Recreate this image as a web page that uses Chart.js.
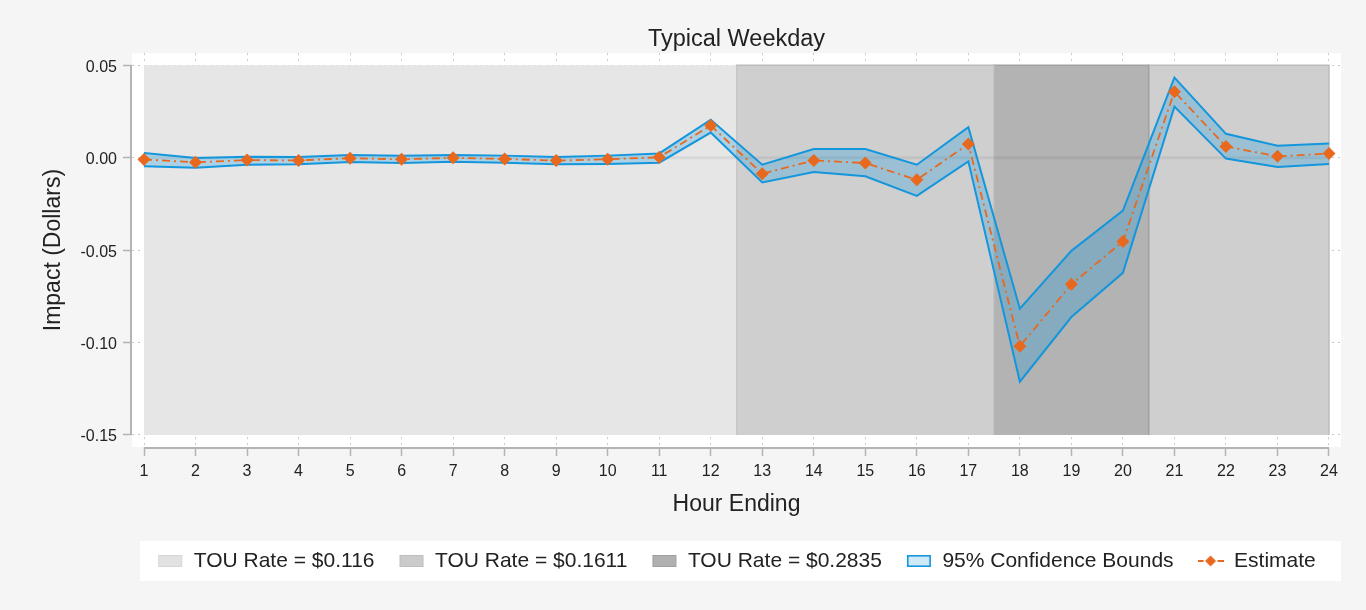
<!DOCTYPE html>
<html>
<head>
<meta charset="utf-8">
<script src="https://cdn.jsdelivr.net/npm/chart.js@4.4.1/dist/chart.umd.min.js"></script>
<style>
  html, body { margin: 0; padding: 0; background: #f5f5f5; }
  #wrap { width: 1366px; height: 610px; position: relative; }
</style>
</head>
<body>
<div id="wrap"><canvas id="chart"></canvas></div>
<script>
const hours = [1, 2, 3, 4, 5, 6, 7, 8, 9, 10, 11, 12, 13, 14, 15, 16, 17, 18, 19, 20, 21, 22, 23, 24];
const estimate = [-0.0010, -0.0025, -0.0013, -0.0015, -0.0003, -0.0009, -0.0001, -0.0007, -0.0016, -0.0009, 0.0002, 0.0174,
                  -0.0087, -0.0015, -0.0029, -0.0120, 0.0074, -0.1020, -0.0685, -0.0453, 0.0357, 0.0060, 0.0007, 0.0022];
const upperBound = [0.0025, -0.0002, 0.0005, 0.0004, 0.0015, 0.0011, 0.0015, 0.0011, 0.0004, 0.0011, 0.0023, 0.0205,
                    -0.0038, 0.0047, 0.0047, -0.0038, 0.0165, -0.0817, -0.0504, -0.0286, 0.0433, 0.0129, 0.0065, 0.0076];
const lowerBound = [-0.0047, -0.0054, -0.0038, -0.0036, -0.0023, -0.0029, -0.0022, -0.0027, -0.0036, -0.0034, -0.0027, 0.0136,
                    -0.0134, -0.0078, -0.0101, -0.0207, -0.0020, -0.1212, -0.0862, -0.0623, 0.0276, -0.0005, -0.0051, -0.0034];

const yTicks = [-0.15, -0.10, -0.05, 0.00, 0.05];
const yTickLabels = ['-0.15', '-0.10', '-0.05', '0.00', '0.05'];

// rate periods (hour ending), rate index into rateLabels
const periodStart = [1, 12.5, 17.5, 20.5];
const periodEnd = [12.5, 17.5, 20.5, 24];
const periodRate = [0, 1, 2, 1];
const rateLabels = ['TOU Rate = $0.116', 'TOU Rate = $0.1611', 'TOU Rate = $0.2835'];
const shadeTop = 0.05;
const shadeBottom = -0.15;

const rateFill = ['#e6e6e6', '#cfcfcf', '#b3b3b3'];
const rateBorder = ['#e0e0e0', '#bcbcbc', '#a2a2a2'];
const swatchFill = ['#e2e2e2', '#cbcbcb', '#b0b0b0'];
const swatchBorder = ['#d6d6d6', '#bebebe', '#a0a0a0'];
const blue = '#1496dc';
const orange = '#e8681e';
const fontFamily = '"Liberation Sans", Arial, sans-serif';
const legendFont = 21;
const legendPad = 24;

function makeSwatch(draw) {
  const c = document.createElement('canvas');
  c.width = 26;
  c.height = 16;
  draw(c.getContext('2d'));
  return c;
}

function rateSwatch(i) {
  return makeSwatch(ctx => {
    ctx.fillStyle = swatchFill[i];
    ctx.fillRect(1, 2, 24, 12);
    ctx.strokeStyle = swatchBorder[i];
    ctx.lineWidth = 1;
    ctx.strokeRect(1.5, 2.5, 23, 11);
  });
}

const ciSwatch = makeSwatch(ctx => {
  ctx.fillStyle = '#cfe9f7';
  ctx.fillRect(1, 2, 24, 12);
  ctx.strokeStyle = blue;
  ctx.lineWidth = 1.6;
  ctx.strokeRect(1.8, 2.8, 22.4, 10.4);
});

const estSwatch = makeSwatch(ctx => {
  ctx.strokeStyle = orange;
  ctx.lineWidth = 2;
  ctx.beginPath();
  ctx.moveTo(0, 8); ctx.lineTo(6, 8);
  ctx.moveTo(20, 8); ctx.lineTo(26, 8);
  ctx.stroke();
  ctx.fillStyle = orange;
  ctx.beginPath();
  ctx.moveTo(13, 2.5); ctx.lineTo(18.5, 8); ctx.lineTo(13, 13.5); ctx.lineTo(7.5, 8);
  ctx.closePath();
  ctx.fill();
});

const xy = (vals) => hours.map((h, i) => ({ x: h, y: vals[i] }));

const datasets = [];
periodStart.forEach((s, i) => {
  const r = periodRate[i];
  datasets.push({
    label: rateLabels[r],
    data: [{ x: s, y: shadeBottom }, { x: s, y: shadeTop }, { x: periodEnd[i], y: shadeTop }, { x: periodEnd[i], y: shadeBottom }],
    borderColor: rateBorder[r],
    borderWidth: r === 0 ? 0 : 1.5,
    backgroundColor: rateFill[r],
    fill: { value: shadeBottom },
    pointRadius: 0,
    order: 10
  });
});
datasets.push({
  label: 'zero',
  data: [{ x: hours[0], y: 0 }, { x: hours[hours.length - 1], y: 0 }],
  borderColor: 'rgba(0,0,0,0.06)',
  borderWidth: 3,
  pointRadius: 0,
  fill: false,
  order: 8
});
const upperIndex = datasets.length;
datasets.push({
  label: '95% Confidence Bounds',
  data: xy(upperBound),
  borderColor: blue,
  borderWidth: 2,
  backgroundColor: 'rgba(20,150,220,0.27)',
  fill: '+1',
  pointRadius: 0,
  order: 5
});
datasets.push({
  label: 'lower',
  data: xy(lowerBound),
  borderColor: blue,
  borderWidth: 2,
  fill: false,
  pointRadius: 0,
  order: 4
});
const estIndex = datasets.length;
datasets.push({
  label: 'Estimate',
  data: xy(estimate),
  borderColor: orange,
  borderWidth: 1.8,
  borderDash: [8, 4, 2, 4],
  pointStyle: 'rectRot',
  pointRadius: 6.5,
  pointBackgroundColor: orange,
  pointBorderWidth: 0,
  fill: false,
  order: 1
});

const backdrop = {
  id: 'backdrop',
  beforeDraw(chart) {
    const { ctx, chartArea, legend } = chart;
    ctx.save();
    ctx.fillStyle = '#f5f5f5';
    ctx.fillRect(0, 0, chart.width, chart.height);
    ctx.fillStyle = '#ffffff';
    ctx.fillRect(chartArea.left, chartArea.top, chartArea.right - chartArea.left, chartArea.bottom - chartArea.top);
    const cy = legend.top + legendPad + legendFont / 2;
    ctx.fillRect(legend.left + 8, cy - 20, legend.right - legend.left - 8, 40);
    ctx.restore();
  },
  afterDatasetsDraw(chart) {
    // axis lines only over the tick range
    const { ctx, chartArea, scales: { x, y } } = chart;
    ctx.save();
    ctx.strokeStyle = '#b4b4b4';
    ctx.lineWidth = 2;
    ctx.beginPath();
    ctx.moveTo(chartArea.left - 1, y.getPixelForValue(yTicks[0]));
    ctx.lineTo(chartArea.left - 1, y.getPixelForValue(yTicks[yTicks.length - 1]));
    ctx.moveTo(x.getPixelForValue(hours[0]), chartArea.bottom + 1);
    ctx.lineTo(x.getPixelForValue(hours[hours.length - 1]), chartArea.bottom + 1);
    ctx.stroke();
    ctx.restore();
  }
};

new Chart(document.getElementById('chart'), {
  type: 'line',
  data: { datasets },
  plugins: [backdrop],
  options: {
    responsive: true,
    maintainAspectRatio: false,
    animation: false,
    events: [],
    layout: { padding: { left: 0, right: 25, top: 0, bottom: 28.5 } },
    elements: { line: { tension: 0 } },
    scales: {
      x: {
        type: 'linear',
        min: 0.767,
        max: 24.233,
        afterBuildTicks: (scale) => { scale.ticks = hours.map(v => ({ value: v })); },
        afterFit: (scale) => { scale.height = 79.5; },
        ticks: { color: '#222', font: { family: fontFamily, size: 16 }, padding: 6, maxRotation: 0, autoSkip: false },
        grid: { color: '#c8c8c8', lineWidth: 1, tickColor: '#b4b4b4', tickLength: 9, tickWidth: 1.5, tickBorderDash: [] },
        border: { display: false, dash: [2, 4] },
        title: { display: true, text: 'Hour Ending', color: '#222', font: { family: fontFamily, size: 23 }, padding: { top: 0, bottom: 8.5 } }
      },
      y: {
        type: 'linear',
        min: -0.1565,
        max: 0.0565,
        afterBuildTicks: (scale) => { scale.ticks = yTicks.map(v => ({ value: v })); },
        afterFit: (scale) => { scale.width = 132; },
        ticks: { color: '#222', font: { family: fontFamily, size: 16 }, padding: 6, labelOffset: 2, callback: (v, i) => yTickLabels[i] },
        grid: { color: '#c8c8c8', lineWidth: 1, tickColor: '#b4b4b4', tickLength: 9, tickWidth: 1.5, tickBorderDash: [] },
        border: { display: false, dash: [2, 4] },
        title: { display: true, text: 'Impact (Dollars)', color: '#222', font: { family: fontFamily, size: 23 }, padding: { top: 40, bottom: 0 } }
      }
    },
    plugins: {
      tooltip: { enabled: false },
      title: {
        display: true,
        fullSize: false,
        text: 'Typical Weekday',
        color: '#222',
        font: { family: fontFamily, size: 23.5, weight: 'normal' },
        padding: { top: 25, bottom: 0 }
      },
      legend: {
        display: true,
        position: 'bottom',
        fullSize: false,
        labels: {
          usePointStyle: true,
          pointStyleWidth: 26,
          padding: legendPad,
          color: '#222',
          font: { family: fontFamily, size: legendFont },
          generateLabels: () => [
            { text: rateLabels[0], pointStyle: rateSwatch(0), datasetIndex: 0, fontColor: '#222', lineWidth: 0, hidden: false },
            { text: rateLabels[1], pointStyle: rateSwatch(1), datasetIndex: 1, fontColor: '#222', lineWidth: 0, hidden: false },
            { text: rateLabels[2], pointStyle: rateSwatch(2), datasetIndex: 2, fontColor: '#222', lineWidth: 0, hidden: false },
            { text: datasets[upperIndex].label, pointStyle: ciSwatch, datasetIndex: upperIndex, fontColor: '#222', lineWidth: 0, hidden: false },
            { text: datasets[estIndex].label, pointStyle: estSwatch, datasetIndex: estIndex, fontColor: '#222', lineWidth: 0, hidden: false }
          ]
        }
      }
    }
  }
});
</script>
</body>
</html>
